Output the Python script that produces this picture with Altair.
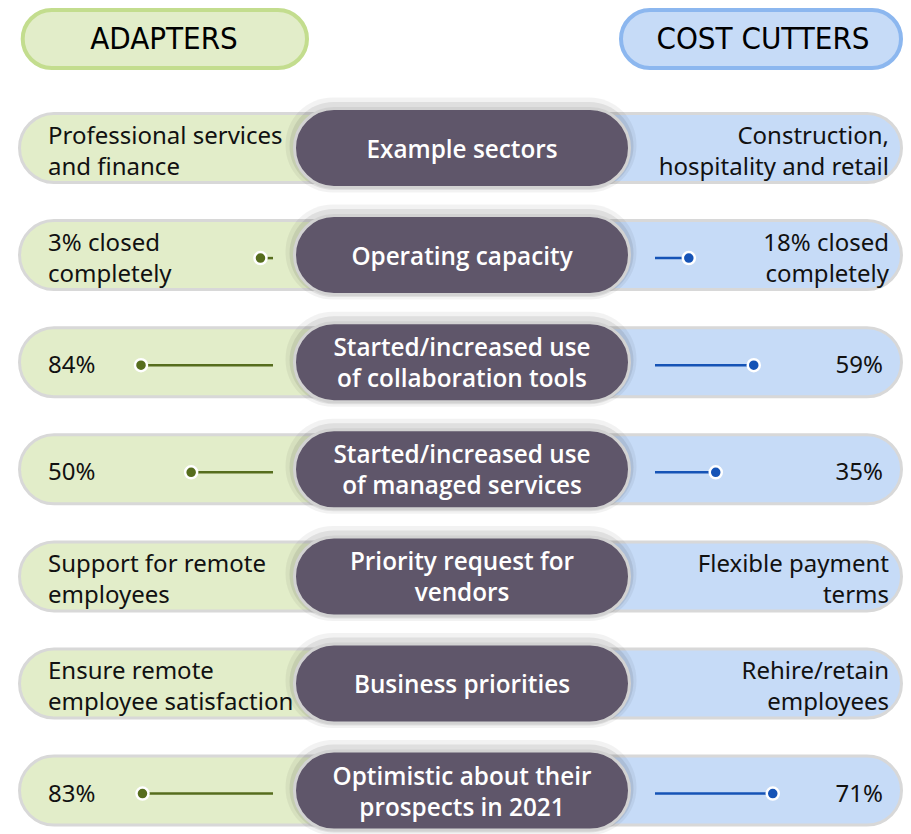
import altair as alt
import pandas as pd

# ---- data ----
headers_left = ["ADAPTERS"]
headers_right = ["COST CUTTERS"]
center_labels = [
    "Example sectors",
    "Operating capacity",
    "Started/increased use\nof collaboration tools",
    "Started/increased use\nof managed services",
    "Priority request for\nvendors",
    "Business priorities",
    "Optimistic about their\nprospects in 2021",
]
adapter_text = [
    "Professional services\nand finance",
    "3% closed\ncompletely",
    "84%",
    "50%",
    "Support for remote\nemployees",
    "Ensure remote\nemployee satisfaction",
    "83%",
]
cutter_text = [
    "Construction,\nhospitality and retail",
    "18% closed\ncompletely",
    "59%",
    "35%",
    "Flexible payment\nterms",
    "Rehire/retain\nemployees",
    "71%",
]
adapter_pct = [None, 3, 84, 50, None, None, 83]
cutter_pct = [None, 18, 59, 35, None, None, 71]

df = pd.DataFrame({
    "row": list(range(len(center_labels))),
    "center": center_labels,
    "left": adapter_text,
    "right": cutter_text,
    "lp": adapter_pct,
    "rp": cutter_pct,
})
df["left2"] = df["left"].str.contains("\n")
df["right2"] = df["right"].str.contains("\n")
df["center2"] = df["center"].str.contains("\n")
df["right_is_pct"] = df["right"].str.endswith("%")

# ---- layout (pixel constants of the drawing area) ----
W, H = 895, 818


def X(v):
    return v - 8


FONT = "Noto Sans"
CFONT = "Open Sans"
HFONT = "DejaVu Sans Condensed"

GREEN_FILL = "#e2edc9"
BLUE_FILL = "#c6dbf7"
PILL_STROKE = "#d8d8d8"
DARK = "#5f566a"
GREEN = "#566d1d"
BLUE = "#1553b6"

ROW0 = 148 - 8
STEP = 107.1
y_enc = alt.Y("row:O", axis=None,
              scale=alt.Scale(domain=list(range(7)),
                              range=[ROW0 - STEP / 2, ROW0 - STEP / 2 + 7 * STEP],
                              paddingInner=0, paddingOuter=0))

base = alt.Chart(df)

left_pill = base.mark_bar(height=69, color=GREEN_FILL, stroke=PILL_STROKE, strokeWidth=3,
                          cornerRadiusTopLeft=34.5, cornerRadiusBottomLeft=34.5).encode(
    x=alt.value(X(18) + 1.5), x2=alt.value(X(470)), y=y_enc)
right_pill = base.mark_bar(height=69, color=BLUE_FILL, stroke=PILL_STROKE, strokeWidth=3,
                           cornerRadiusTopRight=34.5, cornerRadiusBottomRight=34.5).encode(
    x=alt.value(X(455)), x2=alt.value(X(903) - 1.5), y=y_enc)

CL, CR = X(293) + 1.5, X(631) - 1.5
shadow1 = base.mark_bar(height=95, color="#000000", opacity=0.05, cornerRadius=47,
                        yOffset=-3).encode(x=alt.value(CL - 9), x2=alt.value(CR + 7), y=y_enc)
shadow2 = base.mark_bar(height=88, color="#000000", opacity=0.08, cornerRadius=44,
                        yOffset=-2).encode(x=alt.value(CL - 5), x2=alt.value(CR + 4), y=y_enc)
center_pill = base.mark_bar(height=79, color=DARK, stroke="#d2d2d2", strokeWidth=3,
                            cornerRadius=39.5).encode(
    x=alt.value(CL), x2=alt.value(CR), y=y_enc)

lscale = alt.Scale(domain=[0, 100], range=[X(264.9), X(117.4)])
rscale = alt.Scale(domain=[0, 100], range=[X(660.3), X(818.7)])

left_line = base.transform_filter("isValid(datum.lp)").mark_rule(
    color=GREEN, strokeWidth=2.5, yOffset=3).encode(
    x=alt.X("lp:Q", scale=lscale, axis=None), x2=alt.value(X(273)), y=y_enc)
left_dot = base.transform_filter("isValid(datum.lp)").mark_circle(
    color=GREEN, size=145, opacity=1, stroke="white", strokeWidth=2.5, yOffset=3).encode(
    x=alt.X("lp:Q", scale=lscale, axis=None), y=y_enc)

right_line = base.transform_filter("isValid(datum.rp)").mark_rule(
    color=BLUE, strokeWidth=2.5, yOffset=3).encode(
    x=alt.X("rp:Q", scale=rscale, axis=None), x2=alt.value(X(655)), y=y_enc)
right_dot = base.transform_filter("isValid(datum.rp)").mark_circle(
    color=BLUE, size=145, opacity=1, stroke="white", strokeWidth=2.5, yOffset=3).encode(
    x=alt.X("rp:Q", scale=rscale, axis=None), y=y_enc)

LH = 31


def side_text(flt, field, xpos, align, dy):
    return base.transform_filter(flt).mark_text(
        align=align, color="#111111", font=FONT, fontSize=24, lineHeight=LH,
        lineBreak="\n", baseline="middle", dy=dy).encode(
        x=alt.value(xpos), y=y_enc, text=f"{field}:N")


left_text1 = side_text("!datum.left2", "left", X(48), "left", 4)
left_text2 = side_text("datum.left2", "left", X(48), "left", -11.5)
right_text1 = side_text("!datum.right2 && !datum.right_is_pct", "right", X(889), "right", 4)
right_pct = side_text("datum.right_is_pct", "right", X(883), "right", 4)
right_text2 = side_text("datum.right2", "right", X(889), "right", -11.5)


def center_text(flt, dy):
    return base.transform_filter(flt).mark_text(
        align="center", color="white", fontWeight=600, font=CFONT, fontSize=24.3,
        lineHeight=LH, lineBreak="\n", baseline="middle", dy=dy).encode(
        x=alt.value((CL + CR) / 2), y=y_enc, text="center:N")


center_text1 = center_text("!datum.center2", 2.5)
center_text2 = center_text("datum.center2", -13)

hl = alt.Chart(pd.DataFrame({"h": headers_left}))
hr = alt.Chart(pd.DataFrame({"h": headers_right}))
hl_pill = hl.mark_rect(color=GREEN_FILL, stroke="#c3dd8e", strokeWidth=4, cornerRadius=29).encode(
    x=alt.value(X(20.7) + 2), x2=alt.value(X(309) - 2), y=alt.value(2), y2=alt.value(60))
hr_pill = hr.mark_rect(color=BLUE_FILL, stroke="#8cb7ef", strokeWidth=4, cornerRadius=29).encode(
    x=alt.value(X(619) + 2), x2=alt.value(X(903) - 2), y=alt.value(2), y2=alt.value(60))
hl_text = hl.mark_text(font=HFONT, fontSize=31, color="#000000", baseline="middle", dy=1).encode(
    x=alt.value(X(164)), y=alt.value(31), text="h:N")
hr_text = hr.mark_text(font=HFONT, fontSize=31, color="#000000", baseline="middle", dy=1).encode(
    x=alt.value(X(763)), y=alt.value(31), text="h:N")

chart = alt.layer(
    left_pill, right_pill, shadow1, shadow2, center_pill,
    left_line, left_dot, right_line, right_dot,
    left_text1, left_text2, right_text1, right_pct, right_text2,
    center_text1, center_text2,
    hl_pill, hr_pill, hl_text, hr_text,
).resolve_scale(x="independent").properties(
    width=W, height=H, padding=0, background="white"
).configure_view(stroke=None)

chart.save("out.html", embed_options={"renderer": "svg", "actions": False})
